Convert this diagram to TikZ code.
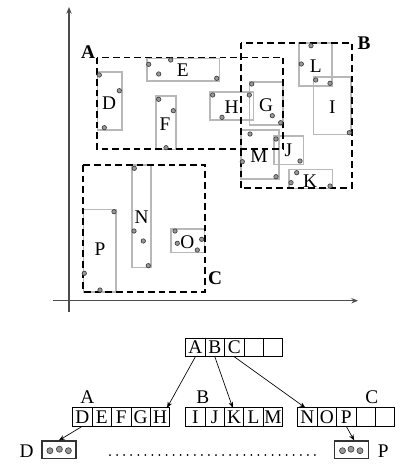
\documentclass[tikz,border=0pt]{standalone}
\usepackage{fontspec}
\setmainfont{Liberation Serif}
\usetikzlibrary{arrows.meta,positioning}

\begin{document}
\begin{tikzpicture}[
  x=0.75pt,y=-0.75pt,
  axis/.style={draw=black!70,line width=0.9pt,-{Stealth[length=5pt,width=4pt]}},
  mbr/.style={draw=black!28,line width=1.2pt},
  region/.style={draw=black,dash pattern=on 5pt off 3pt,line width=1.3pt},
  dotp/.style={draw=black!75,fill=black!40,line width=0.5pt},
  lbl/.style={inner sep=0pt,font=\fontsize{14.5}{16}\selectfont},
  rlbl/.style={inner sep=0pt,font=\fontsize{14.5}{16}\selectfont\bfseries},
  cell/.style={draw,line width=0.6pt,minimum width=14.55pt,minimum height=13.8pt,inner sep=0pt,outer sep=0pt,text height=9.6pt,text depth=0pt,font=\fontsize{14.5}{16}\selectfont},
  leaf/.style={draw=black!80,line width=0.9pt,minimum width=25.5pt,minimum height=13pt,inner sep=0pt},
  arrow/.style={-{Stealth[length=4.5pt,width=3.5pt]},line width=0.5pt}
]
  \useasboundingbox (0,0) rectangle (410,471);

  % axes
  \coordinate (ybot) at (69,311.7);
  \coordinate (ytop) at (69,7);
  \coordinate (xleft) at (52.7,300.7);
  \coordinate (xright) at (358,300.7);
  \draw[axis] (ybot) -- (ytop);
  \draw[axis] (xleft) -- (xright);

  % rectangles of the objects
  \draw[mbr] (97.3,71.7) rectangle (121.7,130);
  \draw[mbr] (146.7,58.3) rectangle (219.3,81);
  \draw[mbr] (156,96) rectangle (175.7,149.3);
  \draw[mbr] (210,91.7) rectangle (253.3,120);
  \draw[mbr] (249.3,81.7) rectangle (282.7,125);
  \draw[mbr] (299,42.7) rectangle (331.7,85.7);
  \draw[mbr] (313.3,76.7) rectangle (351,134.3);
  \draw[mbr] (240.7,130) rectangle (279,179);
  \draw[mbr] (274,136) rectangle (303.3,164.3);
  \draw[mbr] (289,169.3) rectangle (332.3,188.3);
  \draw[mbr] (83.3,209.3) rectangle (115.7,291.7);
  \draw[mbr] (131.7,165) rectangle (150.7,267.3);
  \draw[mbr] (171,229) rectangle (204.3,252.3);

  % dashed regions
  \draw[region] (97.3,57.5) rectangle (283.3,149.3);
  \draw[region] (240.7,42.7) rectangle (351.7,188.3);
  \draw[region] (82.7,165) rectangle (205,291.7);
  \node[rlbl] (regA) at (88,52) {A};
  \node[rlbl] (regB) at (364,43) {B};
  \node[rlbl] (regC) at (215,278) {C};

  % object labels
  \node[lbl] (objD) at (109,103) {D};
  \node[lbl] (objE) at (182.7,70) {E};
  \node[lbl] (objF) at (165,124.3) {F};
  \node[lbl] (objH) at (231.7,106.7) {H};
  \node[lbl] (objG) at (266,105) {G};
  \node[lbl] (objL) at (315.7,66) {L};
  \node[lbl] (objI) at (332.3,106.7) {I};
  \node[lbl] (objM) at (259,156) {M};
  \node[lbl] (objJ) at (288.3,150) {J};
  \node[lbl] (objK) at (310,180.7) {K};
  \node[lbl] (objP) at (100,249.3) {P};
  \node[lbl] (objN) at (141.7,216.7) {N};
  \node[lbl] (objO) at (187.3,241.7) {O};

  % data points
  \path[dotp] (99.3,75) circle[radius=2.2] (119.3,90.7) circle[radius=2.2] (104.3,127.7) circle[radius=2.2];
  \path[dotp] (148.7,64.3) circle[radius=2.2] (170.7,60) circle[radius=2.2] (158.7,74) circle[radius=2.2] (216.7,78.3) circle[radius=2.2];
  \path[dotp] (158.7,99.3) circle[radius=2.2] (173.3,110.7) circle[radius=2.2] (166,147.7) circle[radius=2.2];
  \path[dotp] (212.7,95) circle[radius=2.2] (222,117.3) circle[radius=2.2];
  \path[dotp] (251.7,84) circle[radius=2.2] (249.3,95) circle[radius=2.2] (272.3,115.7) circle[radius=2.2] (280.7,122.7) circle[radius=2.2];
  \path[dotp] (311,45.7) circle[radius=2.2] (301.3,64) circle[radius=2.2] (330,83.3) circle[radius=2.2];
  \path[dotp] (315.7,80) circle[radius=2.2] (349.3,132.7) circle[radius=2.2];
  \path[dotp] (250,134) circle[radius=2.2] (242.3,161.7) circle[radius=2.2] (276,176.7) circle[radius=2.2];
  \path[dotp] (276,139) circle[radius=2.2] (300,161) circle[radius=2.2];
  \path[dotp] (296.7,172.7) circle[radius=2.2] (291,182.7) circle[radius=2.2] (330,186) circle[radius=2.2];
  \path[dotp] (114,211.7) circle[radius=2.2] (84.3,273.3) circle[radius=2.2] (100,290) circle[radius=2.2];
  \path[dotp] (134.3,168.3) circle[radius=2.2] (134,231) circle[radius=2.2] (143.3,241) circle[radius=2.2] (148.3,265.7) circle[radius=2.2];
  \path[dotp] (175,231) circle[radius=2.2] (177.3,243.3) circle[radius=2.2] (201.7,239.3) circle[radius=2.2] (197.3,250) circle[radius=2.2];

  % root of the tree
  \node[cell] (rA) at (195.4,347.5) {A};
  \node[cell,right=0pt of rA] (rB) {B};
  \node[cell,right=0pt of rB] (rC) {C};
  \node[cell,right=0pt of rC] (r4) {};
  \node[cell,right=0pt of r4] (r5) {};

  % second level
  \node[cell] (aD) at (82.4,417) {D};
  \node[cell,right=0pt of aD] (aE) {E};
  \node[cell,right=0pt of aE] (aF) {F};
  \node[cell,right=0pt of aF] (aG) {G};
  \node[cell,right=0pt of aG] (aH) {H};
  \node[cell] (bI) at (195.3,417) {I};
  \node[cell,right=0pt of bI] (bJ) {J};
  \node[cell,right=0pt of bJ] (bK) {K};
  \node[cell,right=0pt of bK] (bL) {L};
  \node[cell,right=0pt of bL] (bM) {M};
  \node[cell] (cN) at (307.4,417) {N};
  \node[cell,right=0pt of cN] (cO) {O};
  \node[cell,right=0pt of cO] (cP) {P};
  \node[cell,right=0pt of cP] (c4) {};
  \node[cell,right=0pt of c4] (c5) {};
  \node[lbl] (nameA) at (87.3,396.7) {A};
  \node[lbl] (nameB) at (202.7,396.7) {B};
  \node[lbl] (nameC) at (371.7,396.7) {C};

  % leaves
  \node[leaf] (leafD) at (58.9,449.7) {};
  \node[leaf] (leafP) at (351.5,449.7) {};
  \node[lbl] (nameD) at (26.7,450.7) {D};
  \node[lbl] (nameP) at (383.3,450.7) {P};
  \path[dotp] (leafD.center) +(-9,1) circle[radius=3] +(0.5,-0.5) circle[radius=3] +(9.5,1) circle[radius=3];
  \path[dotp] (leafP.center) +(-9,1) circle[radius=3] +(-0.5,-0.5) circle[radius=3] +(8.5,1) circle[radius=3];
  \draw[line width=1.5pt,line cap=round,dash pattern=on 0pt off 5.3pt] (110,455) -- (315,455);

  \draw[arrow] (rA.south) -- ([xshift=-2pt]aH.north east);
  \draw[arrow] (rB.south) -- ([xshift=-1pt]bK.north);
  \draw[arrow] (rC.south) -- ([xshift=-1.5pt]cN.north);
  \draw[arrow] (aD.south) -- (leafD.north);
  \draw[arrow] (cP.south) -- ([xshift=2pt]leafP.north);
\end{tikzpicture}
\end{document}
